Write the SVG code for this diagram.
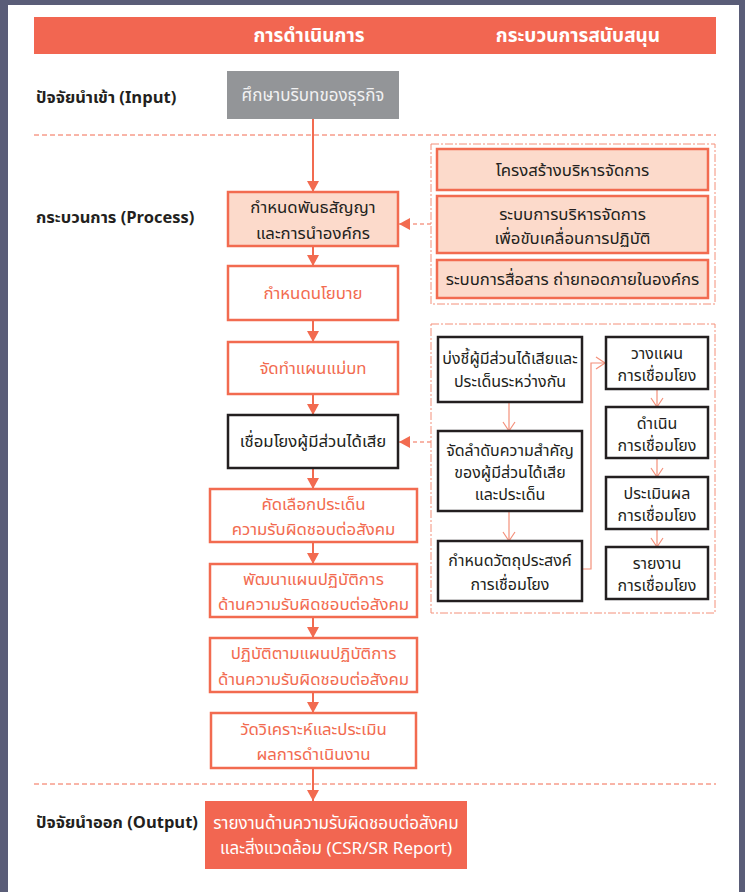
<svg xmlns="http://www.w3.org/2000/svg" width="745" height="892" viewBox="0 0 745 892">
<defs>
<style>
.t{font-family:"Noto Sans Thai","Noto Sans","DejaVu Sans",sans-serif;text-anchor:middle}
.hdr{font-size:19px;font-weight:bold;fill:#ffffff}
.lbl{font-family:"Noto Sans Thai","Noto Sans","DejaVu Sans",sans-serif;font-size:16.5px;font-weight:bold;fill:#231f20}
.bx{fill:#ffffff;stroke:#f26b50;stroke-width:2.5}
.pk{fill:#fcdacb;stroke:#f26b50;stroke-width:2.5}
.bk{fill:#ffffff;stroke:#231f20;stroke-width:2.5}
.st{font-size:16.8px;fill:#f26b50}
.dk{font-size:16.8px;fill:#231f20}
.sm{font-size:16px;fill:#231f20}
.sep{stroke:#f26b50;stroke-width:1;stroke-dasharray:5 3;fill:none}
.grp{stroke:#f4907a;stroke-width:1;stroke-dasharray:8 2 2 2;fill:none}
.c{stroke:#f26b50;stroke-width:2;fill:none}
.cd{stroke:#f26b50;stroke-width:1.2;stroke-dasharray:4 3;fill:none}
.ct{stroke:#f4907a;stroke-width:1.2;fill:none}
</style>
<marker id="ah" markerUnits="userSpaceOnUse" markerWidth="12" markerHeight="12" refX="11" refY="6" orient="auto">
<path d="M0,0 L11,6 L0,12 Z" fill="#f26b50"/>
</marker>
<marker id="av" markerUnits="userSpaceOnUse" markerWidth="12" markerHeight="14" refX="10" refY="7" orient="auto">
<path d="M1,1 L10,7 L1,13" fill="none" stroke="#f4907a" stroke-width="1.2"/>
</marker>
</defs>
<rect x="0" y="0" width="745" height="892" fill="#5a5d78"/>
<rect x="8" y="5" width="731" height="887" fill="#ffffff"/>

<g id="header">
<rect x="34" y="17" width="682" height="37" fill="#f26651"/>
<text class="t hdr" x="309" y="42">การดำเนินการ</text>
<text class="t hdr" x="578" y="42">กระบวนการสนับสนุน</text>
</g>

<g id="row-labels">
<text class="lbl" x="36" y="103">ปัจจัยนำเข้า (Input)</text>
<text class="lbl" x="36" y="223">กระบวนการ (Process)</text>
<text class="lbl" x="36" y="828">ปัจจัยนำออก (Output)</text>
</g>

<g id="separators">
<line class="sep" x1="34" y1="135" x2="716" y2="135"/>
<line class="sep" x1="34" y1="784" x2="716" y2="784"/>
</g>

<g id="connectors">
<line class="c" x1="313" y1="119" x2="313" y2="192" marker-end="url(#ah)"/>
<line class="c" x1="313" y1="246" x2="313" y2="266" marker-end="url(#ah)"/>
<line class="c" x1="313" y1="320" x2="313" y2="342" marker-end="url(#ah)"/>
<line class="c" x1="313" y1="394" x2="313" y2="415" marker-end="url(#ah)"/>
<line class="c" x1="313" y1="468" x2="313" y2="489" marker-end="url(#ah)"/>
<line class="c" x1="313" y1="542" x2="313" y2="564" marker-end="url(#ah)"/>
<line class="c" x1="313" y1="617" x2="313" y2="638" marker-end="url(#ah)"/>
<line class="c" x1="313" y1="692" x2="313" y2="713" marker-end="url(#ah)"/>
<line class="c" x1="313" y1="768" x2="313" y2="801" marker-end="url(#ah)"/>
<line class="cd" x1="431" y1="224" x2="399" y2="224" marker-end="url(#ah)"/>
<line class="cd" x1="431" y1="442" x2="399" y2="442" marker-end="url(#ah)"/>
<line class="ct" x1="509" y1="402" x2="509" y2="431" marker-end="url(#av)"/>
<line class="ct" x1="509" y1="511" x2="509" y2="541" marker-end="url(#av)"/>
<polyline class="ct" points="582,569 591,569 591,363 605,363" marker-end="url(#av)"/>
<line class="ct" x1="657" y1="389" x2="657" y2="407" marker-end="url(#av)"/>
<line class="ct" x1="657" y1="458" x2="657" y2="477" marker-end="url(#av)"/>
<line class="ct" x1="657" y1="529" x2="657" y2="547" marker-end="url(#av)"/>
</g>

<g id="n-context">
<rect x="227" y="71" width="172" height="48" fill="#939598"/>
<text class="t" x="313" y="101" font-size="17" fill="#f1f1f2">ศึกษาบริบทของธุรกิจ</text>
</g>

<g id="n-commit">
<rect class="pk" x="228" y="192" width="170" height="54"/>
<text class="t dk" x="313" y="213">กำหนดพันธสัญญา</text>
<text class="t dk" x="313" y="239">และการนำองค์กร</text>
</g>
<g id="n-policy">
<rect class="bx" x="228" y="266" width="170" height="54"/>
<text class="t st" x="313" y="299">กำหนดนโยบาย</text>
</g>
<g id="n-master">
<rect class="bx" x="228" y="342" width="170" height="52"/>
<text class="t st" x="313" y="374">จัดทำแผนแม่บท</text>
</g>
<g id="n-engage">
<rect class="bk" x="228" y="415" width="170" height="53"/>
<text class="t dk" x="313" y="447">เชื่อมโยงผู้มีส่วนได้เสีย</text>
</g>
<g id="n-select">
<rect class="bx" x="210" y="489" width="207" height="53"/>
<text class="t st" x="313.5" y="510">คัดเลือกประเด็น</text>
<text class="t st" x="313.5" y="535">ความรับผิดชอบต่อสังคม</text>
</g>
<g id="n-develop">
<rect class="bx" x="210" y="564" width="207" height="53"/>
<text class="t st" x="313.5" y="585">พัฒนาแผนปฏิบัติการ</text>
<text class="t st" x="313.5" y="610">ด้านความรับผิดชอบต่อสังคม</text>
</g>
<g id="n-implement">
<rect class="bx" x="210" y="638" width="207" height="54"/>
<text class="t st" x="313.5" y="659">ปฏิบัติตามแผนปฏิบัติการ</text>
<text class="t st" x="313.5" y="685">ด้านความรับผิดชอบต่อสังคม</text>
</g>
<g id="n-measure">
<rect class="bx" x="211" y="713" width="205" height="55"/>
<text class="t st" x="313.5" y="735">วัดวิเคราะห์และประเมิน</text>
<text class="t st" x="313.5" y="760">ผลการดำเนินงาน</text>
</g>
<g id="n-output">
<rect x="205" y="801" width="262" height="68" fill="#f26651"/>
<text class="t" x="336" y="829" font-size="17" fill="#ffffff">รายงานด้านความรับผิดชอบต่อสังคม</text>
<text class="t" x="336" y="854" font-size="17" fill="#ffffff">และสิ่งแวดล้อม (CSR/SR Report)</text>
</g>

<g id="support-group">
<rect class="grp" x="431" y="144" width="284" height="160"/>
</g>
<g id="n-structure">
<rect class="pk" x="437" y="149" width="271" height="41"/>
<text class="t dk" x="572.5" y="176">โครงสร้างบริหารจัดการ</text>
</g>
<g id="n-mgmt">
<rect class="pk" x="437" y="196" width="271" height="57"/>
<text class="t dk" x="572.5" y="220">ระบบการบริหารจัดการ</text>
<text class="t dk" x="572.5" y="244">เพื่อขับเคลื่อนการปฏิบัติ</text>
</g>
<g id="n-comm">
<rect class="pk" x="437" y="260" width="271" height="38"/>
<text class="t dk" x="572.5" y="285">ระบบการสื่อสาร ถ่ายทอดภายในองค์กร</text>
</g>

<g id="engage-group">
<rect class="grp" x="431" y="324" width="284" height="289"/>
</g>
<g id="n-identify">
<rect class="bk" x="438" y="337" width="144" height="65"/>
<text class="t sm" x="510" y="364">บ่งชี้ผู้มีส่วนได้เสียและ</text>
<text class="t sm" x="510" y="387">ประเด็นระหว่างกัน</text>
</g>
<g id="n-prioritize">
<rect class="bk" x="438" y="431" width="144" height="80"/>
<text class="t sm" x="510" y="456">จัดลำดับความสำคัญ</text>
<text class="t sm" x="510" y="478">ของผู้มีส่วนได้เสีย</text>
<text class="t sm" x="510" y="500">และประเด็น</text>
</g>
<g id="n-objective">
<rect class="bk" x="438" y="541" width="144" height="60"/>
<text class="t sm" x="510" y="566">กำหนดวัตถุประสงค์</text>
<text class="t sm" x="510" y="590">การเชื่อมโยง</text>
</g>
<g id="n-plan">
<rect class="bk" x="606" y="337" width="102" height="52"/>
<text class="t sm" x="657" y="359">วางแผน</text>
<text class="t sm" x="657" y="381">การเชื่อมโยง</text>
</g>
<g id="n-do">
<rect class="bk" x="606" y="407" width="102" height="51"/>
<text class="t sm" x="657" y="429">ดำเนิน</text>
<text class="t sm" x="657" y="451">การเชื่อมโยง</text>
</g>
<g id="n-evaluate">
<rect class="bk" x="606" y="477" width="102" height="52"/>
<text class="t sm" x="657" y="499">ประเมินผล</text>
<text class="t sm" x="657" y="521">การเชื่อมโยง</text>
</g>
<g id="n-report">
<rect class="bk" x="606" y="547" width="102" height="52"/>
<text class="t sm" x="657" y="569">รายงาน</text>
<text class="t sm" x="657" y="591">การเชื่อมโยง</text>
</g>
</svg>
